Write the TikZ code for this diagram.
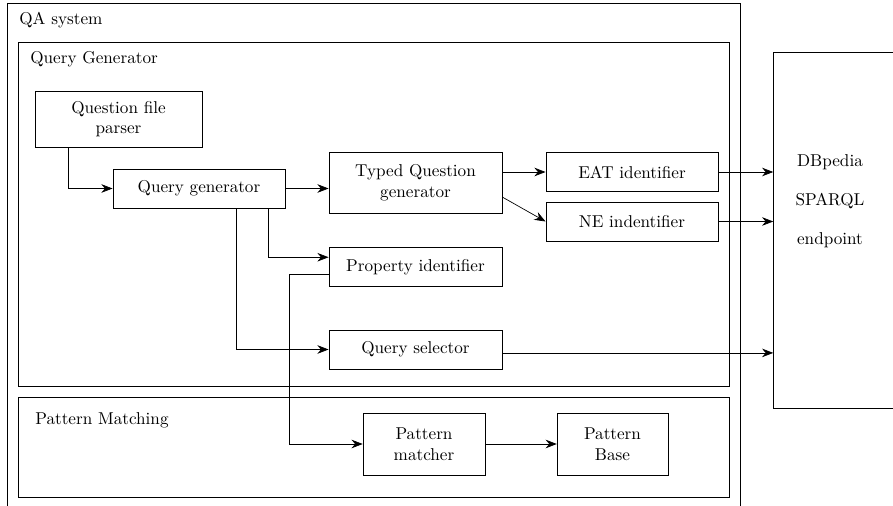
\documentclass[tikz,border=0pt]{standalone}
\usepackage{amsmath}
\usepackage{tikz}
\usetikzlibrary{positioning,arrows.meta}

\begin{document}
\begin{tikzpicture}[x=0.0205cm,y=-0.0205cm,>={Stealth[length=6.5pt,width=5pt]},
    blk/.style={draw,rectangle,align=center,minimum height=0.8cm},
    lbl/.style={anchor=west,inner sep=0pt}]
    \useasboundingbox (0,0) rectangle (893,506);
    \clip (0,0) rectangle (893,506);

    % Containers
    \draw (7,3) rectangle (740,530);
    \node[lbl] (qa) at (19,20) {QA system};
    \draw (18,42) rectangle (729,386);
    \node[lbl] (qgbox) at (30,59) {Query Generator};
    \draw (18,397) rectangle (729,497);
    \node[lbl] (pmbox) at (35,420) {Pattern Matching};

    % Query generator part
    \node[blk,minimum width=3.42cm,minimum height=1.15cm] (qfp) at (118.5,119) {Question file\\parser};
    \node[blk,minimum width=3.53cm] (qgen) at (199,188.5) {Query generator};
    \node[blk,minimum width=3.55cm,minimum height=1.25cm] (tqg) at (415.5,182.5) {Typed Question\\generator};
    \node[blk,minimum width=3.53cm] (eat) at (632,172) {EAT identifier};
    \node[blk,minimum width=3.53cm] (ne) at (632,221.5) {NE indentifier};
    \node[blk,minimum width=3.55cm] (prop) at (415.5,267) {Property identifier};
    \node[blk,minimum width=3.55cm] (qsel) at (415.5,349.5) {Query selector};

    % Pattern matching part
    \node[blk,minimum width=2.5cm,minimum height=1.27cm] (pmatch) at (424,444) {Pattern\\matcher};
    \node[blk,minimum width=2.27cm,minimum height=1.27cm] (pbase) at (612.5,444) {Pattern\\Base};

    % Endpoint
    \node[blk,minimum width=2.6cm,minimum height=7.3cm] (db) at (837,230) {};
    \node[align=center] (dbtxt) at (830,201) {DBpedia\\[10.7pt]SPARQL\\[10.7pt]endpoint};

    \draw[->] ([xshift=0.68cm]qfp.south west) |- (qgen.west);
    \draw[->] (qgen.east) -- (qgen.east -| tqg.west);
    \draw[->] (eat.west -| tqg.east) -- (eat.west);
    \draw[->] ([yshift=-0.3cm]tqg.east) -- (ne.west);
    \draw[->] (eat.east) -- (eat.east -| db.west);
    \draw[->] (ne.east) -- (ne.east -| db.west);
    \draw[->] ([xshift=-0.35cm]qgen.south east) |- ([yshift=0.2cm]prop.west);
    \draw[->] ([xshift=-1cm]qgen.south east) |- (qsel.west);
    \draw[->] ([yshift=-0.15cm]prop.west) -- ++(-39,0) |- (pmatch.west);
    \draw[->] ([yshift=-0.07cm]qsel.east) -- ([yshift=-0.07cm]qsel.east -| db.west);
    \draw[->] (pmatch.east) -- (pbase.west);
\end{tikzpicture}
\end{document}
